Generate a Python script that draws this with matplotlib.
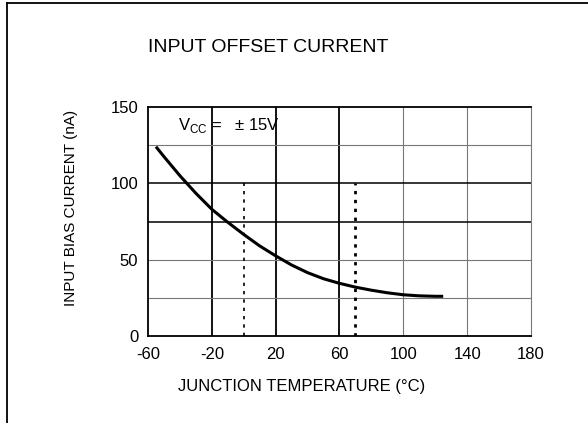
import numpy as np
import matplotlib
matplotlib.use("Agg")
from matplotlib import pyplot as plt
from matplotlib.lines import Line2D

plt.rcParams['font.family'] = ['Liberation Sans', 'DejaVu Sans']
plt.rcParams['mathtext.fontset'] = 'custom'
plt.rcParams['mathtext.rm'] = 'Liberation Sans'
plt.rcParams['axes.unicode_minus'] = False

# curve
temp = [-55, -50, -40, -30, -20, -10, 0, 10, 20, 30, 40, 50, 60, 70, 80, 90, 100, 110, 120, 125]
bias = [124, 117.5, 105, 93.5, 83, 74.5, 66.5, 59, 52.5, 46.5, 41.5, 37.5, 34.5, 32, 30, 28.3, 27, 26.3, 26, 26]

x_ticks = [-60, -20, 20, 60, 100, 140, 180]
y_ticks = [0, 50, 100, 150]
dark_v = [-20, 20, 60]
light_v = [100, 140]
dark_h = [75, 100]
light_h = [25, 50, 125]
dotted_v = [0, 70]

fig = plt.figure(figsize=(5.88, 4.23), dpi=100)
ax = fig.add_axes([0.2517, 0.2057, 0.6513, 0.5413])
ax.set_xlim(-60, 180)
ax.set_ylim(0, 150)

for xv in dark_v:
    ax.axvline(xv, color='black', lw=1.3, zorder=1)
for xv in light_v:
    ax.axvline(xv, color='#777777', lw=0.8, zorder=1)
for yv in dark_h:
    ax.axhline(yv, color='black', lw=1.1, zorder=1)
for yv in light_h:
    ax.axhline(yv, color='#777777', lw=0.8, zorder=1)
ax.vlines(dotted_v[0], 0, 100, colors='black', lw=1.2, linestyles=(0, (2, 3)), zorder=1)
ax.vlines(dotted_v[1], 0, 100, colors='black', lw=2.0, linestyles=(0, (1.2, 2)), zorder=1)

ax.plot(temp, bias, color='black', lw=2.2, zorder=3, solid_capstyle='butt')

ax.text(-41, 138, r'V$_{\mathregular{CC}}$ =   ± 15V', fontsize=12, va='center', ha='left')

ax.set_xticks(x_ticks)
ax.set_yticks(y_ticks)
ax.tick_params(length=0, labelsize=12)
ax.tick_params(axis='x', pad=8)
ax.tick_params(axis='y', pad=7)
for s in ['left', 'bottom', 'top']:
    ax.spines[s].set_color('black')
    ax.spines[s].set_linewidth(1.3)
ax.spines['right'].set_color('#777777')
ax.spines['right'].set_linewidth(0.8)

ax.set_xlabel('JUNCTION TEMPERATURE (°C)', fontsize=12)
ax.xaxis.set_label_coords(0.402, -0.188)
ax.set_ylabel('INPUT BIAS CURRENT (nA)', fontsize=11)
ax.yaxis.set_label_coords(-0.184, 0.561)

fig.text(268 / 588, 1 - 47 / 423, 'INPUT OFFSET CURRENT', fontsize=14, ha='center', va='center')

# frame lines of the original figure box
fig.add_artist(Line2D([0.012, 0.012], [0, 0.993], color='black', lw=1.3, transform=fig.transFigure))
fig.add_artist(Line2D([0.012, 1.0], [0.993, 0.993], color='black', lw=1.3, transform=fig.transFigure))

fig.savefig('out.png', dpi=100)
